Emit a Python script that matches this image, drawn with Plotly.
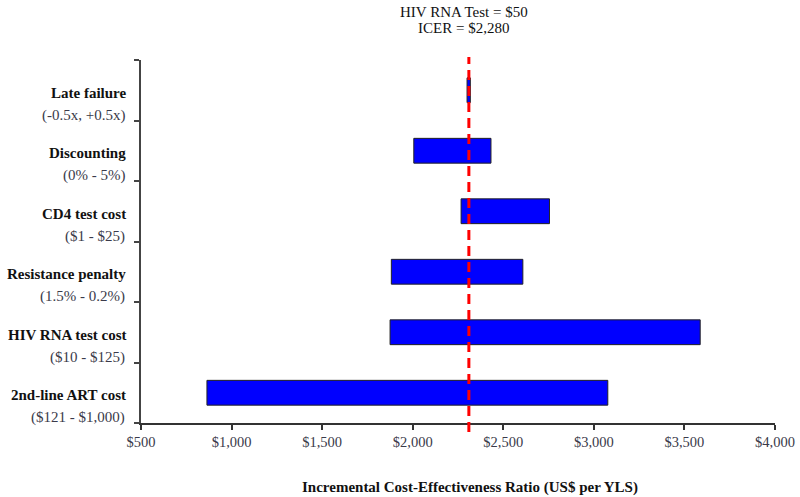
import plotly.graph_objects as go

# Data (bottom to top)
names = ["2nd-line ART cost", "HIV RNA test cost", "Resistance penalty",
         "CD4 test cost", "Discounting", "Late failure"]
ranges = ["($121 - $1,000)", "($10 - $125)", "(1.5% - 0.2%)",
          "($1 - $25)", "(0% - 5%)", "(-0.5x, +0.5x)"]
low_vals = [864, 1875, 1882, 2267, 2006, 2300]
high_vals = [3077, 3587, 2608, 2755, 2432, 2318]
icer_line = 2310
x_ticks = [500, 1000, 1500, 2000, 2500, 3000, 3500, 4000]
title_lines = ["HIV RNA Test = $50", "ICER = $2,280"]

FONT = "Liberation Serif"
ypos = list(range(len(names)))

fig = go.Figure()
fig.add_trace(go.Bar(
    y=ypos, x=[h - l for h, l in zip(high_vals, low_vals)], base=low_vals,
    orientation="h", width=0.41,
    marker=dict(color="#0000FF", line=dict(color="#222222", width=1)),
    hoverinfo="skip", showlegend=False,
))

fig.add_shape(type="line", xref="x", yref="paper", x0=icer_line, x1=icer_line,
              y0=-0.025, y1=1.008, line=dict(color="#FF0000", width=3, dash="10px,6px"),
              layer="above")

annotations = []
for i, (n, r) in enumerate(zip(names, ranges)):
    annotations.append(dict(xref="paper", yref="y", x=0, y=i - 0.04, xanchor="right",
                            yanchor="middle", xshift=-13, showarrow=False,
                            text="<b>%s</b>" % n, font=dict(family=FONT, size=15, color="#111111")))
    annotations.append(dict(xref="paper", yref="y", x=0, y=i - 0.41, xanchor="right",
                            yanchor="middle", xshift=-14, showarrow=False,
                            text=r, font=dict(family=FONT, size=15, color="#3a3a4a")))
for t, yp in zip(title_lines, [1.132, 1.088]):
    annotations.append(dict(xref="x", yref="paper", x=icer_line - 27, y=yp, xanchor="center",
                            yanchor="middle", showarrow=False, text=t,
                            font=dict(family=FONT, size=15, color="#111111")))
annotations.append(dict(xref="paper", yref="paper", x=0.519, y=-0.179, xanchor="center",
                        yanchor="middle", showarrow=False,
                        text="<b>Incremental Cost-Effectiveness Ratio (US$ per YLS)</b>",
                        font=dict(family=FONT, size=15, color="#111111")))

fig.update_layout(
    width=800, height=497,
    margin=dict(l=141, r=25, t=60, b=74),
    plot_bgcolor="white", paper_bgcolor="white",
    font=dict(family=FONT, size=14.5, color="#333333"),
    annotations=annotations,
    xaxis=dict(range=[500, 4000], tickvals=x_ticks, automargin=False,
               ticktext=["$" + format(v, ",") for v in x_ticks],
               showline=True, linecolor="#333333", linewidth=1.5,
               ticks="outside", ticklen=5, tickcolor="#333333", tickwidth=1.5,
               showgrid=False, zeroline=False,
               tickfont=dict(family=FONT, size=14.5, color="#3a3a4a")),
    yaxis=dict(range=[-0.5, 5.5], tickvals=[k - 0.5 for k in range(len(names) + 1)],
               automargin=False,
               showticklabels=False, showline=True, linecolor="#444444", linewidth=1.5,
               ticks="outside", ticklen=5, tickcolor="#444444", tickwidth=1.5,
               showgrid=False, zeroline=False),
)

fig.write_html("out.html", config={"displayModeBar": False},
               post_script="document.body.style.margin='0px';")
